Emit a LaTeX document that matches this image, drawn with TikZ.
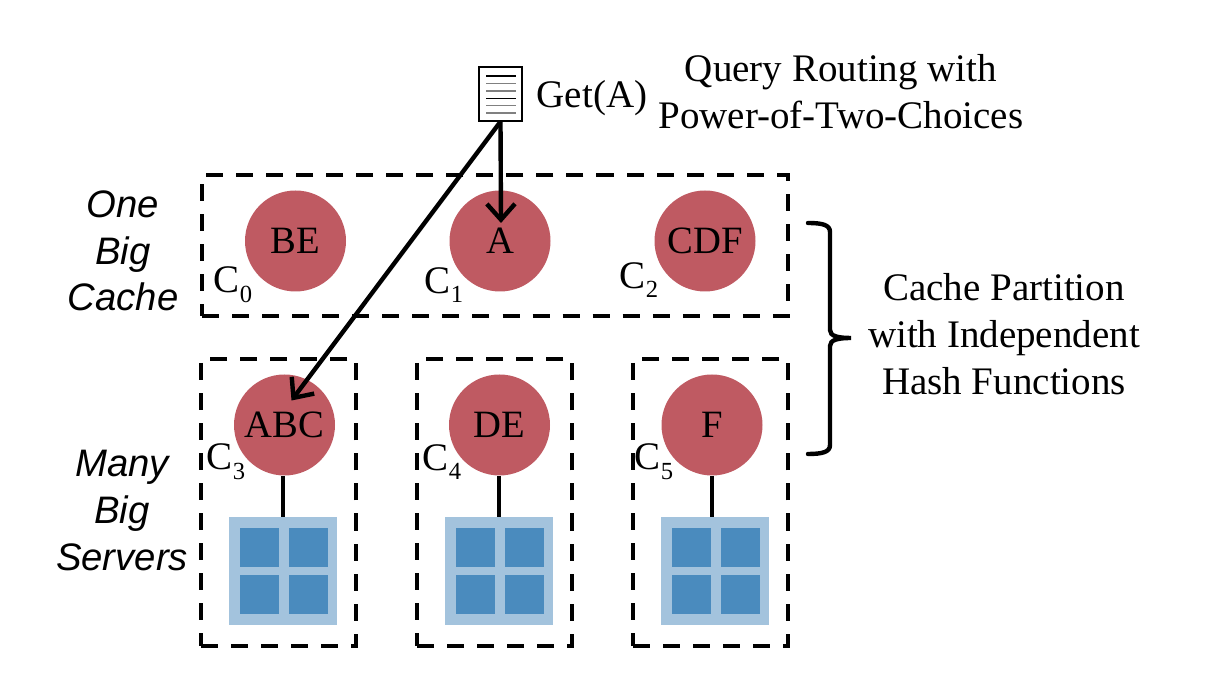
\documentclass[tikz,border=0pt]{standalone}
\usepackage{fontspec}
\setmainfont{Liberation Serif}
\setsansfont{Liberation Sans}
\usetikzlibrary{arrows.meta}

\definecolor{cacheRed}{HTML}{BF5A62}
\definecolor{serverLight}{HTML}{A3C3DD}
\definecolor{serverDark}{HTML}{4A8BBE}
\newcommand{\csub}[1]{C\raisebox{-.25em}{\fontsize{14}{14}\selectfont #1}}

\tikzset{
	cachenode/.style={circle, fill=cacheRed, minimum size=2.02cm, inner sep=0pt, font=\fontsize{22}{24}\selectfont},
	dashbox/.style={draw, line width=2.4pt, dash pattern=on 9.7pt off 7.4pt, minimum width=3.1cm, minimum height=5.74cm, inner sep=0pt},
	serverbox/.style={fill=serverLight, minimum size=2.16cm, inner sep=0pt},
	servercell/.style={fill=serverDark, minimum size=0.78cm, inner sep=0pt},
	wire/.style={line width=2.5pt},
	arrowwire/.style={line width=2.5pt, -{Straight Barb[length=9pt, width=16pt, line width=2.5pt]}},
	serif/.style={font=\fontsize{22.2}{26.8}\selectfont, align=center, inner sep=0pt},
	slanted/.style={font=\sffamily\itshape\fontsize{21.8}{26.5}\selectfont, align=center, inner sep=0pt},
	docline/.style={line width=0.8pt}
}

\begin{document}
\begin{tikzpicture}
	\useasboundingbox (0, 0) rectangle (24.12, 13.6);
	% Dashed boxes:
	\node[dashbox, minimum width=11.72cm, minimum height=2.82cm](BoxTop) at (9.90, 8.69){};
	\node[dashbox](BoxA) at (5.57, 3.55){};
	\node[dashbox](BoxB) at (9.89, 3.55){};
	\node[dashbox](BoxC) at (14.21, 3.55){};
	% Caches:
	\node[cachenode](BE) at (5.91, 8.78){BE};
	\node[cachenode](A) at (10.00, 8.78){A};
	\node[cachenode](CDF) at (14.10, 8.78){CDF};
	\node[cachenode](ABC) at (5.69, 5.10){ABC};
	\node[cachenode](DE) at (9.99, 5.10){DE};
	\node[cachenode](F) at (14.24, 5.10){F};
	\node[serif](C0) at (4.66, 7.90){\csub{0}};
	\node[serif](C1) at (8.88, 7.90){\csub{1}};
	\node[serif](C2) at (12.78, 8.00){\csub{2}};
	\node[serif](C3) at (4.52, 4.36){\csub{3}};
	\node[serif](C4) at (8.84, 4.36){\csub{4}};
	\node[serif](C5) at (13.08, 4.36){\csub{5}};
	% Servers:
	\node[serverbox](SrvA) at (5.66, 2.18){};
	\node[servercell](SrvA1) at (5.19, 2.65){};
	\node[servercell](SrvA2) at (6.17, 2.65){};
	\node[servercell](SrvA3) at (5.19, 1.71){};
	\node[servercell](SrvA4) at (6.17, 1.71){};
	\node[serverbox](SrvB) at (9.98, 2.18){};
	\node[servercell](SrvB1) at (9.51, 2.65){};
	\node[servercell](SrvB2) at (10.49, 2.65){};
	\node[servercell](SrvB3) at (9.51, 1.71){};
	\node[servercell](SrvB4) at (10.49, 1.71){};
	\node[serverbox](SrvC) at (14.30, 2.18){};
	\node[servercell](SrvC1) at (13.83, 2.65){};
	\node[servercell](SrvC2) at (14.81, 2.65){};
	\node[servercell](SrvC3) at (13.83, 1.71){};
	\node[servercell](SrvC4) at (14.81, 1.71){};
	\draw[wire] (SrvA.north |- ABC.south) -- (SrvA.north);
	\draw[wire] (SrvB.north |- DE.south) -- (SrvB.north);
	\draw[wire] (F.south) -- (F.south |- SrvC.north);
	% Query document:
	\node[draw, line width=1pt, minimum width=0.86cm, minimum height=1.07cm, inner sep=0pt](Doc) at (10.01, 11.72){};
	\draw[docline] (9.72, 12.08) -- (10.32, 12.08);
	\draw[docline, gray] (9.72, 11.93) -- (10.32, 11.93);
	\draw[docline, gray] (9.72, 11.78) -- (10.32, 11.78);
	\draw[docline] (9.72, 11.63) -- (10.32, 11.63);
	\draw[docline, gray] (9.72, 11.49) -- (10.32, 11.49);
	\draw[docline, gray] (9.72, 11.34) -- (10.32, 11.34);
	\coordinate (TipA) at (10.02, 9.14);
	\coordinate (TipABC) at (5.83, 5.59);
	\draw[arrowwire] (Doc.south) -- (TipA);
	\draw[arrowwire] (Doc.south) -- (TipABC);
	% Brace:
	\draw[wire, line cap=round] (16.16, 9.14) .. controls (16.45, 9.14) and (16.60, 9.10) .. (16.60, 8.96) -- (16.60, 7.00) .. controls (16.60, 6.88) and (16.75, 6.84) .. (17.02, 6.84) .. controls (16.75, 6.84) and (16.60, 6.80) .. (16.60, 6.68) -- (16.60, 4.70) .. controls (16.60, 4.56) and (16.45, 4.52) .. (16.16, 4.52);
	% Labels:
	\node[serif](GetA) at (11.84, 11.64){Get(A)};
	\node[serif](Routing) at (16.82, 11.76){Query Routing with\\Power-of-Two-Choices};
	\node[serif](Partition) at (20.08, 6.92){Cache Partition\\with Independent\\Hash Functions};
	\node[slanted](OneBig) at (2.46, 8.58){One\\Big\\Cache};
	\node[slanted](ManyBig) at (2.44, 3.39){Many\\Big\\Servers};
\end{tikzpicture}
\end{document}
